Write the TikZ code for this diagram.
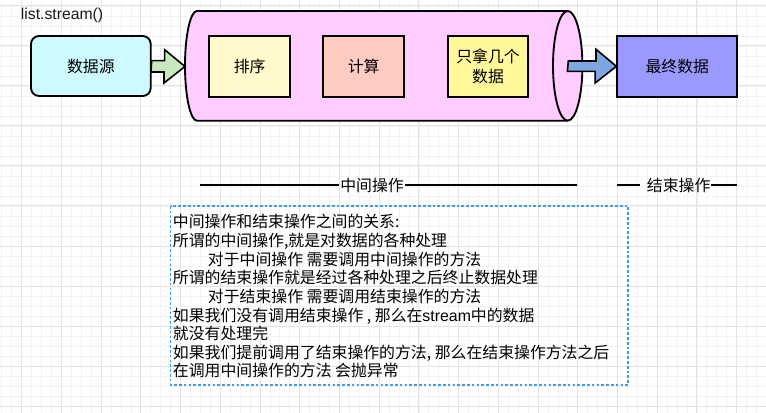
\documentclass[tikz,border=0pt]{standalone}
\usepackage{fontspec}
\setmainfont{Liberation Sans}
\newfontfamily\cjk{Noto Sans CJK SC}
\definecolor{pinkfill}{HTML}{FFCCFF}
\definecolor{srcfill}{HTML}{CCFAFF}
\definecolor{sortfill}{HTML}{FFF9CC}
\definecolor{calcfill}{HTML}{FFCCC4}
\definecolor{takefill}{HTML}{FFF799}
\definecolor{finalfill}{HTML}{9999FF}
\definecolor{bluearrow}{HTML}{7EA6E0}
\definecolor{greenarrow}{HTML}{C8E9C0}
\definecolor{dashblue}{HTML}{3AA0E8}
\definecolor{majorgrid}{HTML}{E4E4E4}
\definecolor{minorgrid}{HTML}{F3F3F3}
\begin{document}
\begin{tikzpicture}[x=0.75pt,y=-0.75pt,
  cjkfont/.style={font=\cjk\fontsize{11.9}{14.2}\selectfont},
  box/.style={draw=black,line width=1.4pt,inner sep=0pt,cjkfont,align=center,
    minimum height=60.7*0.75pt},
  blockarrow/.style={draw=black,line width=1.2pt,line join=miter},
  secline/.style={draw=black,line width=1.2pt},
  seclabel/.style={cjkfont,inner sep=0.5pt},
  textline/.style={cjkfont,anchor=base west,inner sep=0pt},
  gridminor/.style={draw=minorgrid,line width=0.6pt},
  gridmajor/.style={draw=majorgrid,line width=0.75pt}]
\useasboundingbox[fill=white] (0,0) rectangle (766,413);
% grid
\foreach \i in {0,...,76} \draw[gridminor] ({1.84+9.93*\i},0) -- ({1.84+9.93*\i},413);
\foreach \j in {0,...,41} \draw[gridminor] (0,{6+10*\j}) -- (766,{6+10*\j});
\foreach \i in {0,...,18} \draw[gridmajor] ({21.7+39.72*\i},0) -- ({21.7+39.72*\i},413);
\foreach \j in {0,...,10} \draw[gridmajor] (0,{6+40*\j}) -- (766,{6+40*\j});

% title
\node[anchor=west,inner sep=0pt,font=\fontsize{11.8}{14}\selectfont,text=black!90] (title) at (20.7,15.5) {list.stream()};

% source
\node[box,fill=srcfill,rounded corners=8*0.75pt,minimum width=119.7*0.75pt,minimum height=60*0.75pt] (src) at (90.85,66) {数据源};

% cylinder
\fill[pinkfill] (567.7,11) -- (197,11) arc[start angle=270,end angle=90,x radius=12,y radius=54.85] -- (567.7,120.7) -- cycle;
\fill[pinkfill] (567.7,65.85) ellipse[x radius=14.7,y radius=54.85];
\draw[black,line width=1.4pt] (567.7,11) -- (197,11) arc[start angle=270,end angle=90,x radius=12,y radius=54.85] -- (567.7,120.7);
\draw[black,line width=1.4pt] (567.7,65.85) ellipse[x radius=14.7,y radius=54.85];
\coordinate (cylleft) at (185,66.5);

% inner boxes
\node[box,fill=sortfill,minimum width=80.7*0.75pt] (sort) at (249.65,66.35) {排序};
\node[box,fill=calcfill,minimum width=80.7*0.75pt] (calc) at (363.65,66.35) {计算};
\node[box,fill=takefill,minimum width=80.6*0.75pt] (take) at (488,66.35) {只拿几个\\[1pt]数据};

% final
\node[box,fill=finalfill,minimum width=120*0.75pt] (final) at (677.3,66.35) {最终数据};

% green arrow src -> cylinder
\draw[blockarrow,fill=greenarrow] (src.east) ++(0,-5.3) -- ++(13,0) -- ++(0,-11) -- (cylleft)
  -- ++(-21,16.5) -- ++(0,-11) -- ++(-13,0) -- cycle;
% blue arrow cylinder -> final
\coordinate (cylout) at (568.3,66.35);
\draw[blockarrow,fill=bluearrow] (cylout) ++(0,-5.35) -- ++(27.7,0) -- ++(0,-11.7) -- (final.west)
  -- ++(-21.3,16.7) -- ++(0,-11.7) -- ++(-27.7,0) -- cycle;

% section lines
\node[seclabel] (midlbl) at (372,185) {中间操作};
\coordinate (midA) at (200,185);
\coordinate (midB) at (577.3,185);
\draw[secline] (midA) -- (midlbl.west);
\draw[secline] (midlbl.east) -- (midB);
\node[seclabel] (endlbl) at (678.7,185) {结束操作};
\coordinate (endA) at (617.3,185);
\coordinate (endA2) at (640,185);
\coordinate (endB) at (737,185);
\draw[secline] (endA) -- (endA2);
\draw[secline] (endlbl.east) -- (endB);

% dashed note box
\draw[dashblue,line width=0.9pt,dash pattern=on 2pt off 1.6pt] (170.7,206) rectangle (628,385);
\node[textline] (t1) at (172.7,227.7) {中间操作和结束操作之间的关系:};
\node[textline] (t2) at (172.7,246.36) {所谓的中间操作,就是对数据的各种处理};
\node[textline] (t3) at (207.7,265.02) {对于中间操作 需要调用中间操作的方法};
\node[textline] (t4) at (172.7,283.68) {所谓的结束操作就是经过各种处理之后终止数据处理};
\node[textline] (t5) at (207.7,302.34) {对于结束操作 需要调用结束操作的方法};
\node[textline] (t6) at (172.7,321.0) {如果我们没有调用结束操作 , 那么在{\fontspec{Liberation Sans}stream}中的数据};
\node[textline] (t7) at (172.7,339.66) {就没有处理完};
\node[textline] (t8) at (172.7,358.32) {如果我们提前调用了结束操作的方法, 那么在结束操作方法之后};
\node[textline] (t9) at (172.7,376.98) {在调用中间操作的方法 会抛异常};
\end{tikzpicture}
\end{document}
